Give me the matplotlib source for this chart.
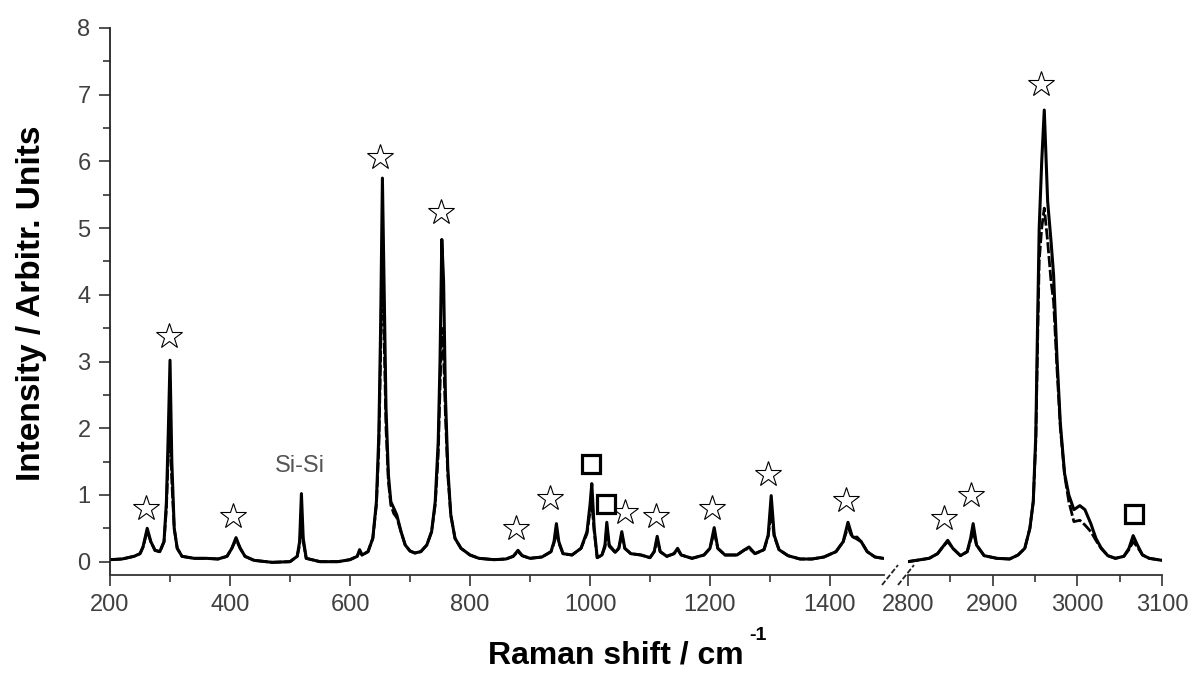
import matplotlib
matplotlib.use('Agg')
import matplotlib.pyplot as plt
from matplotlib.lines import Line2D
from matplotlib.ticker import MultipleLocator

plt.rcParams['font.family'] = ['Liberation Sans', 'DejaVu Sans']

# spectrum, low wavenumber part (two overlaid measurements)
x_low = [200, 220, 240, 250, 255, 262, 268, 275, 283, 290, 294, 297, 300, 303, 307, 312, 320,
         340, 360, 380, 395, 403, 410, 417, 425, 440, 470, 500, 512, 516, 519, 522, 527, 550,
         580, 600, 612, 616, 620, 630, 638, 644, 648, 651, 654, 657, 660, 664, 668, 673, 678,
         685, 692, 700, 708, 718, 728, 736, 742, 747, 750, 753, 756, 759, 763, 768, 775, 785,
         800, 815, 840, 860, 872, 880, 887, 900, 920, 935, 940, 944, 948, 955, 970, 985, 995,
         1000, 1003, 1007, 1012, 1020, 1025, 1028, 1032, 1042, 1048, 1053, 1058, 1068, 1085,
         1100, 1107, 1112, 1117, 1128, 1140, 1146, 1152, 1170, 1190, 1200, 1207, 1213, 1225,
         1245, 1258, 1265, 1275, 1290, 1297, 1302, 1307, 1315, 1330, 1350, 1370, 1390, 1410,
         1422, 1430, 1437, 1445, 1452, 1462, 1475, 1495]
y_low_a = [0.03, 0.04, 0.08, 0.12, 0.22, 0.50, 0.30, 0.17, 0.15, 0.30, 0.9, 1.9, 3.02, 1.5, 0.5, 0.2, 0.08,
           0.05, 0.05, 0.04, 0.08, 0.2, 0.36, 0.2, 0.08, 0.02, -0.01, 0.0, 0.08, 0.3, 1.02, 0.35, 0.05, 0.0,
           0.0, 0.03, 0.08, 0.18, 0.1, 0.15, 0.35, 0.9, 1.9, 3.5, 5.75, 4.0, 2.3, 1.3, 0.9, 0.8, 0.7,
           0.45, 0.25, 0.16, 0.13, 0.15, 0.25, 0.45, 0.9, 1.8, 3.0, 4.83, 4.2, 2.5, 1.4, 0.7, 0.35, 0.2,
           0.1, 0.05, 0.03, 0.04, 0.08, 0.17, 0.09, 0.05, 0.07, 0.15, 0.3, 0.57, 0.3, 0.12, 0.1, 0.2, 0.45,
           0.85, 1.17, 0.5, 0.06, 0.1, 0.25, 0.59, 0.25, 0.14, 0.2, 0.45, 0.2, 0.12, 0.1,
           0.06, 0.15, 0.38, 0.15, 0.08, 0.12, 0.2, 0.1, 0.05, 0.1, 0.2, 0.51, 0.2, 0.1,
           0.1, 0.18, 0.22, 0.12, 0.18, 0.4, 0.99, 0.4, 0.18, 0.09, 0.04, 0.04, 0.07, 0.15,
           0.3, 0.59, 0.38, 0.34, 0.3, 0.15, 0.07, 0.04]
y_low_b = [0.03, 0.04, 0.08, 0.12, 0.22, 0.46, 0.30, 0.17, 0.15, 0.30, 0.8, 1.6, 2.0, 1.2, 0.5, 0.2, 0.08,
           0.05, 0.05, 0.04, 0.08, 0.2, 0.33, 0.2, 0.08, 0.02, -0.01, 0.0, 0.08, 0.25, 0.6, 0.3, 0.05, 0.0,
           0.0, 0.03, 0.08, 0.16, 0.1, 0.15, 0.35, 0.85, 1.7, 3.1, 4.8, 3.3, 2.0, 1.2, 0.85, 0.72, 0.66,
           0.45, 0.25, 0.16, 0.13, 0.15, 0.25, 0.45, 0.85, 1.6, 2.6, 3.5, 3.1, 2.2, 1.3, 0.7, 0.35, 0.2,
           0.1, 0.05, 0.03, 0.04, 0.08, 0.15, 0.09, 0.05, 0.07, 0.15, 0.28, 0.45, 0.28, 0.12, 0.1, 0.2, 0.42,
           0.75, 0.88, 0.45, 0.06, 0.1, 0.22, 0.5, 0.23, 0.14, 0.2, 0.4, 0.2, 0.12, 0.1,
           0.06, 0.15, 0.33, 0.15, 0.08, 0.12, 0.18, 0.1, 0.05, 0.1, 0.2, 0.45, 0.2, 0.1,
           0.1, 0.18, 0.2, 0.12, 0.18, 0.38, 0.75, 0.38, 0.18, 0.09, 0.04, 0.04, 0.07, 0.15,
           0.3, 0.52, 0.36, 0.37, 0.3, 0.15, 0.07, 0.04]

# spectrum, C-H stretching part
x_high = [2800, 2810, 2825, 2835, 2841, 2847, 2853, 2862, 2870, 2874, 2877, 2881, 2890, 2905, 2920,
          2930, 2938, 2944, 2948, 2951, 2953, 2955, 2958, 2961, 2965, 2969, 2972, 2976, 2980, 2985,
          2990, 2996, 3003, 3009, 3016, 3022, 3028, 3036, 3045, 3055, 3061, 3066, 3071, 3077, 3085,
          3095, 3100]
y_high_a = [0.0, 0.02, 0.05, 0.12, 0.22, 0.32, 0.2, 0.09, 0.15, 0.35, 0.57, 0.25, 0.09, 0.05, 0.04,
            0.1, 0.2, 0.5, 0.9, 1.9, 3.5, 5.0, 6.0, 6.77, 5.4, 4.8, 4.3, 3.06, 2.07, 1.32,
            1.0, 0.78, 0.84, 0.78, 0.57, 0.35, 0.21, 0.09, 0.05, 0.08, 0.2, 0.39, 0.25, 0.1, 0.05,
            0.03, 0.02]
y_high_b = [0.0, 0.02, 0.05, 0.12, 0.22, 0.3, 0.2, 0.09, 0.15, 0.32, 0.45, 0.25, 0.09, 0.05, 0.04,
            0.1, 0.2, 0.5, 0.9, 1.8, 3.2, 4.5, 5.0, 5.3, 4.8, 4.2, 3.9, 2.9, 2.0, 1.3,
            0.9, 0.6, 0.62, 0.55, 0.45, 0.32, 0.2, 0.09, 0.05, 0.08, 0.18, 0.3, 0.22, 0.1, 0.05,
            0.03, 0.02]

# band assignments
star_x = [260, 298, 405, 650, 752, 877, 933, 1058, 1110, 1203, 1297, 1427, 2842, 2874, 2957]
star_y = [0.81, 3.39, 0.69, 6.07, 5.24, 0.51, 0.96, 0.74, 0.68, 0.81, 1.31, 0.92, 0.66, 1.0, 7.16]
square_x = [1002, 1027, 3067]
square_y = [1.46, 0.87, 0.71]

tick_col = '#404040'

fig = plt.figure(figsize=(11.92, 6.73), dpi=100)
ax1 = fig.add_axes([0.0923, 0.1456, 0.6493, 0.8128])
ax2 = fig.add_axes([0.7617, 0.1456, 0.2131, 0.8128], sharey=ax1)

ax1.plot(x_low, y_low_a, color='black', lw=2.2)
ax1.plot(x_low, y_low_b, color='black', lw=2.0, ls=(0, (4, 1)))
ax2.plot(x_high, y_high_a, color='black', lw=2.2)
ax2.plot(x_high, y_high_b, color='black', lw=2.0, ls=(0, (4, 1)))

for ax, lo, hi in [(ax1, 200, 1490), (ax2, 2800, 3100)]:
    sx = [x for x in star_x if lo <= x <= hi]
    sy = [y for x, y in zip(star_x, star_y) if lo <= x <= hi]
    ax.plot(sx, sy, ls='none', marker='*', ms=19, mfc='white', mec='black', mew=0.8)
    qx = [x for x in square_x if lo <= x <= hi]
    qy = [y for x, y in zip(square_x, square_y) if lo <= x <= hi]
    ax.plot(qx, qy, ls='none', marker='s', ms=13, mfc='white', mec='black', mew=2.3)

ax1.text(517, 1.44, 'Si-Si', fontsize=17, color='#555555', ha='center', va='center')

ax1.set_xlim(200, 1490)
ax2.set_xlim(2800, 3100)
ax1.set_ylim(-0.2, 8)

ax1.xaxis.set_major_locator(MultipleLocator(200))
ax1.xaxis.set_minor_locator(MultipleLocator(100))
ax2.xaxis.set_major_locator(MultipleLocator(100))
ax2.xaxis.set_minor_locator(MultipleLocator(50))
ax1.yaxis.set_major_locator(MultipleLocator(1))
ax1.yaxis.set_minor_locator(MultipleLocator(0.5))

for ax in (ax1, ax2):
    ax.spines['top'].set_visible(False)
    ax.spines['right'].set_visible(False)
    ax.spines['bottom'].set_color('#333333')
    ax.spines['bottom'].set_linewidth(1.3)
    ax.tick_params(axis='both', which='major', length=8, width=1.2, color='#333333',
                   labelsize=17, labelcolor=tick_col, pad=6)
    ax.tick_params(axis='both', which='minor', length=5, width=1.2, color='#333333')
ax1.spines['left'].set_color('#222222')
ax1.spines['left'].set_linewidth(1.3)
ax2.spines['left'].set_visible(False)
ax2.tick_params(axis='y', which='both', left=False, labelleft=False)

# axis break marks
for x0 in (882, 898):
    fig.add_artist(Line2D([x0 / 1192, (x0 + 16) / 1192], [(673 - 585) / 673, (673 - 565) / 673],
                          color='#222222', lw=1.3, ls=(0, (3, 1.2))))

fig.text(616 / 1192, (673 - 655) / 673, 'Raman shift / cm', fontsize=23,
         fontweight='bold', ha='center', va='center')
fig.text(749 / 1192, (673 - 636) / 673, '-1', fontsize=14,
         fontweight='bold', ha='left', va='center')
fig.text(32 / 1192, (673 - 303) / 673, 'Intensity / Arbitr. Units', fontsize=24,
         fontweight='bold', ha='center', va='center', rotation=90)

fig.savefig('out.png', dpi=100)
